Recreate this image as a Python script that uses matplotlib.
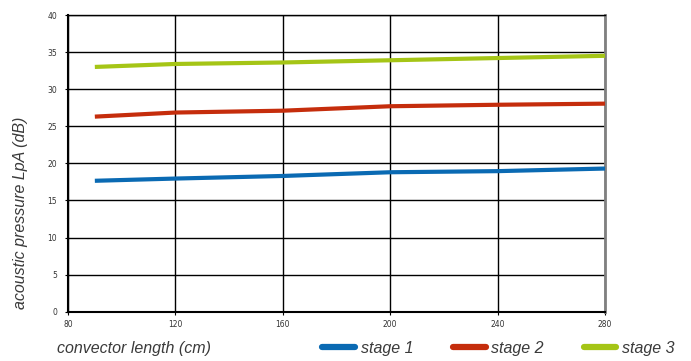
import matplotlib
matplotlib.use("Agg")
import matplotlib.pyplot as plt
from matplotlib.lines import Line2D

length_cm = [90, 120, 160, 200, 240, 280]
stage1 = [17.65, 17.95, 18.3, 18.8, 18.95, 19.3]
stage2 = [26.3, 26.85, 27.1, 27.7, 27.9, 28.05]
stage3 = [33.0, 33.4, 33.6, 33.9, 34.2, 34.5]

series = [("stage 1", stage1, "#0a6ab3"),
          ("stage 2", stage2, "#c52d0c"),
          ("stage 3", stage3, "#a5c516")]

x_ticks = [80, 120, 160, 200, 240, 280]
y_ticks = [0, 5, 10, 15, 20, 25, 30, 35, 40]

label_font = dict(family="Liberation Sans", style="italic", fontsize=11.5, color="#3a3a3a")

fig = plt.figure(figsize=(6.91, 3.61), dpi=100)
ax = fig.add_axes([0.0984, 0.1366, 0.7771, 0.8218])

for name, vals, col in series:
    ax.plot(length_cm, vals, color=col, lw=3, solid_capstyle="butt", zorder=3)

ax.set_xlim(80, 280)
ax.set_ylim(0, 40)
ax.set_xticks(x_ticks)
ax.set_yticks(y_ticks)
ax.grid(True, color="black", lw=1.0)
ax.tick_params(labelsize=5.5, labelcolor="#333333", length=2, width=0.8, pad=6)
ax.tick_params(axis="x", pad=4)

for side in ["left", "bottom", "top"]:
    ax.spines[side].set_color("black")
    ax.spines[side].set_linewidth(1.5)
ax.spines["top"].set_linewidth(1.0)
ax.spines["right"].set_color("#808080")
ax.spines["right"].set_linewidth(2)

fig.text(0.029, 0.41, "acoustic pressure LpA (dB)", rotation=90, ha="center", va="center", **label_font)
fig.text(0.083, 0.035, "convector length (cm)", ha="left", va="center", **label_font)

handles = [Line2D([0], [0], color=col, lw=4.5, solid_capstyle="round") for _, _, col in series]
fig.legend(handles, [s[0] for s in series], loc="center right", bbox_to_anchor=(0.997, 0.035),
           ncol=3, frameon=False, handlelength=2.05, handletextpad=0.35, columnspacing=2.5,
           labelcolor="#3a3a3a",
           prop=dict(family="Liberation Sans", style="italic", size=11.5))

fig.savefig("out.png", dpi=100)
